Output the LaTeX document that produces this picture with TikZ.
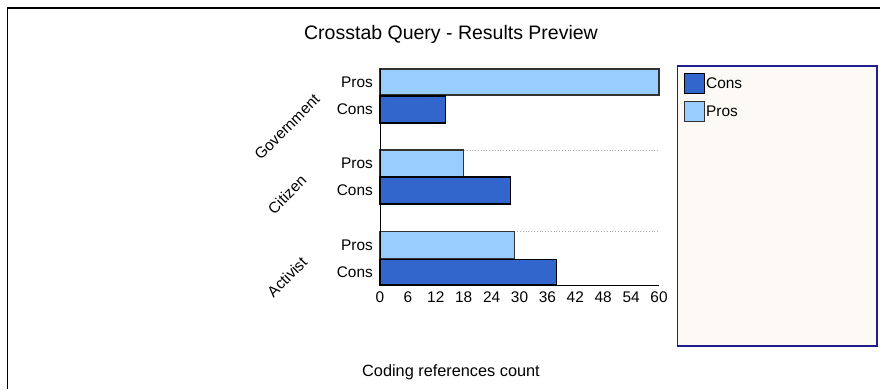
\documentclass[tikz,border=0pt]{standalone}
\usepackage{fontspec}
\setmainfont{Liberation Sans}
\definecolor{consblue}{RGB}{51,102,204}
\definecolor{prosblue}{RGB}{153,204,255}
\definecolor{legendedge}{RGB}{30,30,140}
\definecolor{legendfill}{RGB}{253,250,245}
\tikzset{
  lbl/.style={font=\fontsize{15.4}{18}\selectfont, inner sep=0pt},
  barcons/.style={fill=consblue, draw=black, line width=1.2pt},
  barpros/.style={fill=prosblue, draw=black!80, line width=1.2pt},
  grid/.style={draw=gray!70, dotted, line width=0.8pt},
  axis/.style={draw=black, line width=1pt},
}
\begin{document}
\begin{tikzpicture}[x=1pt,y=-1pt]
\useasboundingbox (0,0) rectangle (880,389);
% outer frame
\draw[line width=1.5pt] (7.5,389) -- (7.5,8) -- (880,8);
% title
\node[font=\fontsize{19.5}{22}\selectfont, inner sep=0pt] (title) at (451,34) {Crosstab Query - Results Preview};
% group separators
\draw[grid] (380,150) -- (659,150);
\draw[grid] (380,231) -- (659,231);
% bars (scale: 4.65 per unit)
\def\u{4.65}
\draw[barpros] (380,69) rectangle ({380+60*\u},95);
\draw[barcons] (380,96) rectangle ({380+14*\u},123);
\draw[barpros] (380,150) rectangle ({380+18*\u},176.5);
\draw[barcons] (380,177) rectangle ({380+28*\u},204);
\draw[barpros] (380,231.5) rectangle ({380+29*\u},259);
\draw[barcons] (380,259.5) rectangle ({380+38*\u},285);
% axes
\draw[axis] (380,69) -- (380,285) -- (659,285);
% tick labels
\foreach \v in {0,6,...,60}
  \node[lbl] (t\v) at ({380+\v*\u},297.5) {\v};
% bar labels
\node[lbl, anchor=east] (gp) at (373,82) {Pros};
\node[lbl, anchor=east] (gc) at (373,109.5) {Cons};
\node[lbl, anchor=east] (cp) at (373,163) {Pros};
\node[lbl, anchor=east] (cc) at (373,190.5) {Cons};
\node[lbl, anchor=east] (ap) at (373,245) {Pros};
\node[lbl, anchor=east] (ac) at (373,272) {Cons};
% group labels
\node[lbl, rotate=45] (gov) at (287,127) {Government};
\node[lbl, rotate=45] (cit) at (287,194.5) {Citizen};
\node[lbl, rotate=45] (act) at (287,277) {Activist};
% axis title
\node[font=\fontsize{16.3}{19}\selectfont, inner sep=0pt] (xtitle) at (451,372) {Coding references count};
% legend
\draw[draw=legendedge, fill=legendfill, line width=1.8pt] (677.5,66) rectangle (877,346);
\draw[barcons, line width=1pt] (684,73) rectangle (704,93);
\draw[barpros, line width=1pt] (684,101) rectangle (704,121);
\node[lbl, anchor=west] (lc) at (706,83) {Cons};
\node[lbl, anchor=west] (lp) at (706,111) {Pros};
\end{tikzpicture}
\end{document}
